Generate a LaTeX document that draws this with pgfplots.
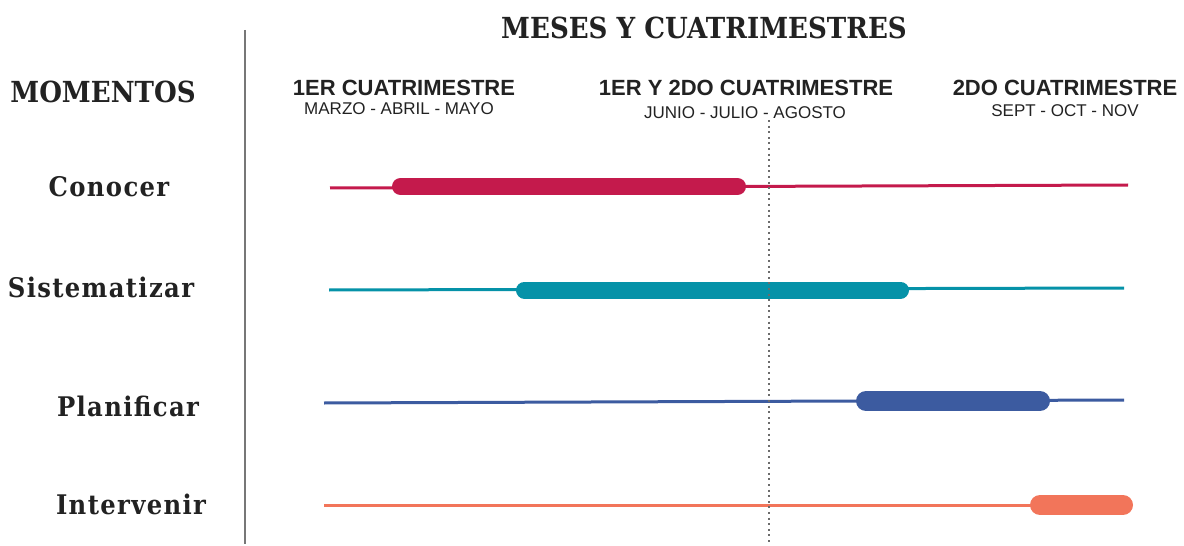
\documentclass[border=0pt]{standalone}
\usepackage{pgfplots}
\pgfplotsset{compat=1.18}
\usepackage{fontspec}
\setmainfont{Liberation Sans}
\newfontfamily\serifb{DejaVu Serif}[FakeStretch=0.9]
\newfontfamily\serifrow{DejaVu Serif}[FakeStretch=0.9, LetterSpace=5]
\newfontfamily\sansb{Liberation Sans}
\definecolor{cCon}{HTML}{C41A4C}
\definecolor{cSis}{HTML}{0592A8}
\definecolor{cPla}{HTML}{3C5BA0}
\definecolor{cInt}{HTML}{F2755A}
\definecolor{cGray}{HTML}{777777}
\definecolor{cTxt}{HTML}{222222}
\begin{document}
\begin{tikzpicture}
\begin{axis}[
  scale only axis, width=592pt, height=272pt,
  xmin=0, xmax=1184, ymin=0, ymax=544, y dir=reverse,
  hide axis, clip=false,
]
\path (rel axis cs:0,0) rectangle (rel axis cs:1,1);
% frame lines
\addplot[no marks, cGray, line width=1.4pt] coordinates {(245,30) (245,544)};
% thin lines
\addplot[no marks, cCon, line width=1.5pt] coordinates {(330,188) (1128,185)};
\addplot[no marks, cSis, line width=1.5pt] coordinates {(329,290) (1124,288)};
\addplot[no marks, cPla, line width=1.5pt] coordinates {(324,403) (1124,400)};
\addplot[no marks, cInt, line width=1.5pt] coordinates {(324,505) (1124,505)};
% thick bars
\addplot[no marks, cCon, line width=8.5pt, line cap=round] coordinates {(400.5,186.5) (737.5,186.5)};
\addplot[no marks, cSis, line width=8.5pt, line cap=round] coordinates {(524.5,290) (900.5,290)};
\addplot[no marks, cPla, line width=10pt, line cap=round] coordinates {(866,401) (1040,401)};
\addplot[no marks, cInt, line width=10pt, line cap=round] coordinates {(1040,505) (1123,505)};
% dotted divider
\addplot[no marks, cGray!90!black, line width=1.2pt, dash pattern=on 1pt off 1.8pt] coordinates {(769,120) (769,544)};
% texts
\node[text=cTxt, font=\serifb\bfseries\fontsize{14.5pt}{16pt}\selectfont] at (axis cs:704,28) {MESES Y CUATRIMESTRES};
\node[text=cTxt, font=\serifb\bfseries\fontsize{14.5pt}{16pt}\selectfont] at (axis cs:103,92) {MOMENTOS};
\node[text=cTxt, font=\serifrow\bfseries\fontsize{13.5pt}{15pt}\selectfont] at (axis cs:109,187) {Conocer};
\node[text=cTxt, font=\serifrow\bfseries\fontsize{13.5pt}{15pt}\selectfont] at (axis cs:101,287) {Sistematizar};
\node[text=cTxt, font=\serifrow\bfseries\fontsize{13.5pt}{15pt}\selectfont] at (axis cs:128,406) {Planificar};
\node[text=cTxt, font=\serifrow\bfseries\fontsize{13.5pt}{15pt}\selectfont] at (axis cs:131,504) {Intervenir};
\node[text=cTxt, font=\sansb\bfseries\fontsize{11pt}{13pt}\selectfont] at (axis cs:404,88) {1ER CUATRIMESTRE};
\node[text=cTxt, font=\sansb\fontsize{8.5pt}{10pt}\selectfont] at (axis cs:399,109) {MARZO - ABRIL - MAYO};
\node[text=cTxt, font=\sansb\bfseries\fontsize{11pt}{13pt}\selectfont] at (axis cs:746,88) {1ER Y 2DO CUATRIMESTRE};
\node[text=cTxt, font=\sansb\fontsize{8.5pt}{10pt}\selectfont] at (axis cs:745,113) {JUNIO - JULIO - AGOSTO};
\node[text=cTxt, font=\sansb\bfseries\fontsize{11pt}{13pt}\selectfont] at (axis cs:1065,88) {2DO CUATRIMESTRE};
\node[text=cTxt, font=\sansb\fontsize{8.5pt}{10pt}\selectfont] at (axis cs:1065,111) {SEPT - OCT - NOV};
\end{axis}
\end{tikzpicture}
\end{document}
